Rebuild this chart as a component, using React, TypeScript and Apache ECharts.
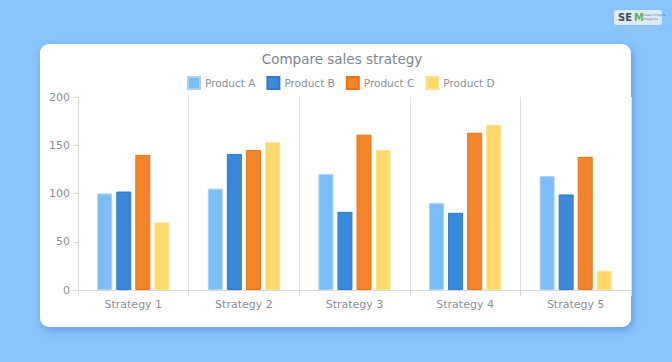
import React, { useEffect, useRef } from "react";
import * as echarts from "echarts";

const categories = ["Strategy 1", "Strategy 2", "Strategy 3", "Strategy 4", "Strategy 5"];
const productA = [100, 105, 120, 90, 118];
const productB = [102, 141, 81, 80, 99];
const productC = [140, 145, 161, 163, 138];
const productD = [70, 153, 145, 171, 20];
const seriesNames = ["Product A", "Product B", "Product C", "Product D"];
const yTicks = [0, 50, 100, 150, 200];

const FONT = "DejaVu Sans";
const fills = ["#7BBDF6", "#3B89D9", "#F2852A", "#FFDA6B"];
const borders = ["#A6D2FA", "#2F7BD0", "#EC7316", "#FFE38C"];

export default function App() {
  const ref = useRef<HTMLDivElement>(null);
  useEffect(() => {
    if (!ref.current) return;
    const chart = echarts.init(ref.current, undefined, { renderer: "svg" });
    const data = [productA, productB, productC, productD];
    chart.setOption({
      animation: false,
      backgroundColor: "#8AC4FF",
      textStyle: { fontFamily: FONT },
      title: {
        text: "Compare sales strategy",
        left: 337,
        textAlign: "center",
        top: 47,
        textStyle: { fontFamily: FONT, fontSize: 13.5, fontWeight: "normal", color: "#7E868F" },
      },
      legend: {
        top: 71,
        left: 182,
        itemWidth: 12,
        itemHeight: 12,
        itemGap: 11,
        icon: "rect",
        textStyle: { fontFamily: FONT, fontSize: 10.5, color: "#8A9099", padding: [0, 0, 0, 0] },
        data: seriesNames,
      },
      graphic: [
        {
          type: "rect",
          z: -10,
          shape: { x: 40, y: 44, width: 591, height: 283, r: 9 },
          style: {
            fill: "#ffffff",
            shadowColor: "rgba(20,70,150,0.35)",
            shadowBlur: 8,
            shadowOffsetX: 2,
            shadowOffsetY: 3,
          },
        },
        {
          type: "rect",
          z: -10,
          shape: { x: 614, y: 10, width: 48, height: 15, r: 3 },
          style: { fill: "#DCEBFA" },
        },
        {
          type: "text",
          z: -9,
          x: 618,
          y: 12,
          style: { text: "SE", fontFamily: FONT, fontSize: 10, fontWeight: "bold", fill: "#3D4C5C" },
        },
        {
          type: "text",
          z: -9,
          x: 634,
          y: 12,
          style: { text: "M", fontFamily: FONT, fontSize: 10, fontWeight: "bold", fill: "#6CB04A" },
        },
        {
          type: "text",
          z: -9,
          x: 644,
          y: 13,
          style: { text: "Search Engine\nMagazine", fontFamily: FONT, fontSize: 3, lineHeight: 4, fill: "#6A7A8A" },
        },
      ],
      grid: { left: 78, right: 41, top: 97, bottom: 72 },
      xAxis: {
        type: "category",
        data: categories,
        axisLine: { lineStyle: { color: "#D9D9D9" } },
        axisTick: { show: true, length: 6, lineStyle: { color: "#D9D9D9" } },
        splitLine: { show: true, lineStyle: { color: "#E2E2E2" } },
        axisLabel: { fontFamily: FONT, fontSize: 11, color: "#8A9099", margin: 9 },
      },
      yAxis: {
        type: "value",
        min: yTicks[0],
        max: yTicks[yTicks.length - 1],
        interval: 50,
        axisLine: { show: true, lineStyle: { color: "#D9D9D9" } },
        axisTick: { show: true, length: 5, lineStyle: { color: "#D9D9D9" } },
        splitLine: { show: false },
        axisLabel: { fontFamily: FONT, fontSize: 11, color: "#8A9099", margin: 8 },
      },
      series: seriesNames.map((name, i) => ({
        name,
        type: "bar",
        data: data[i],
        barWidth: 15,
        barGap: "27%",
        itemStyle: { color: fills[i], borderColor: borders[i], borderWidth: 1 },
      })),
    });
    return () => chart.dispose();
  }, []);
  return <div ref={ref} style={{ position: "fixed", left: 0, top: 0, width: 672, height: 362 }} />;
}
